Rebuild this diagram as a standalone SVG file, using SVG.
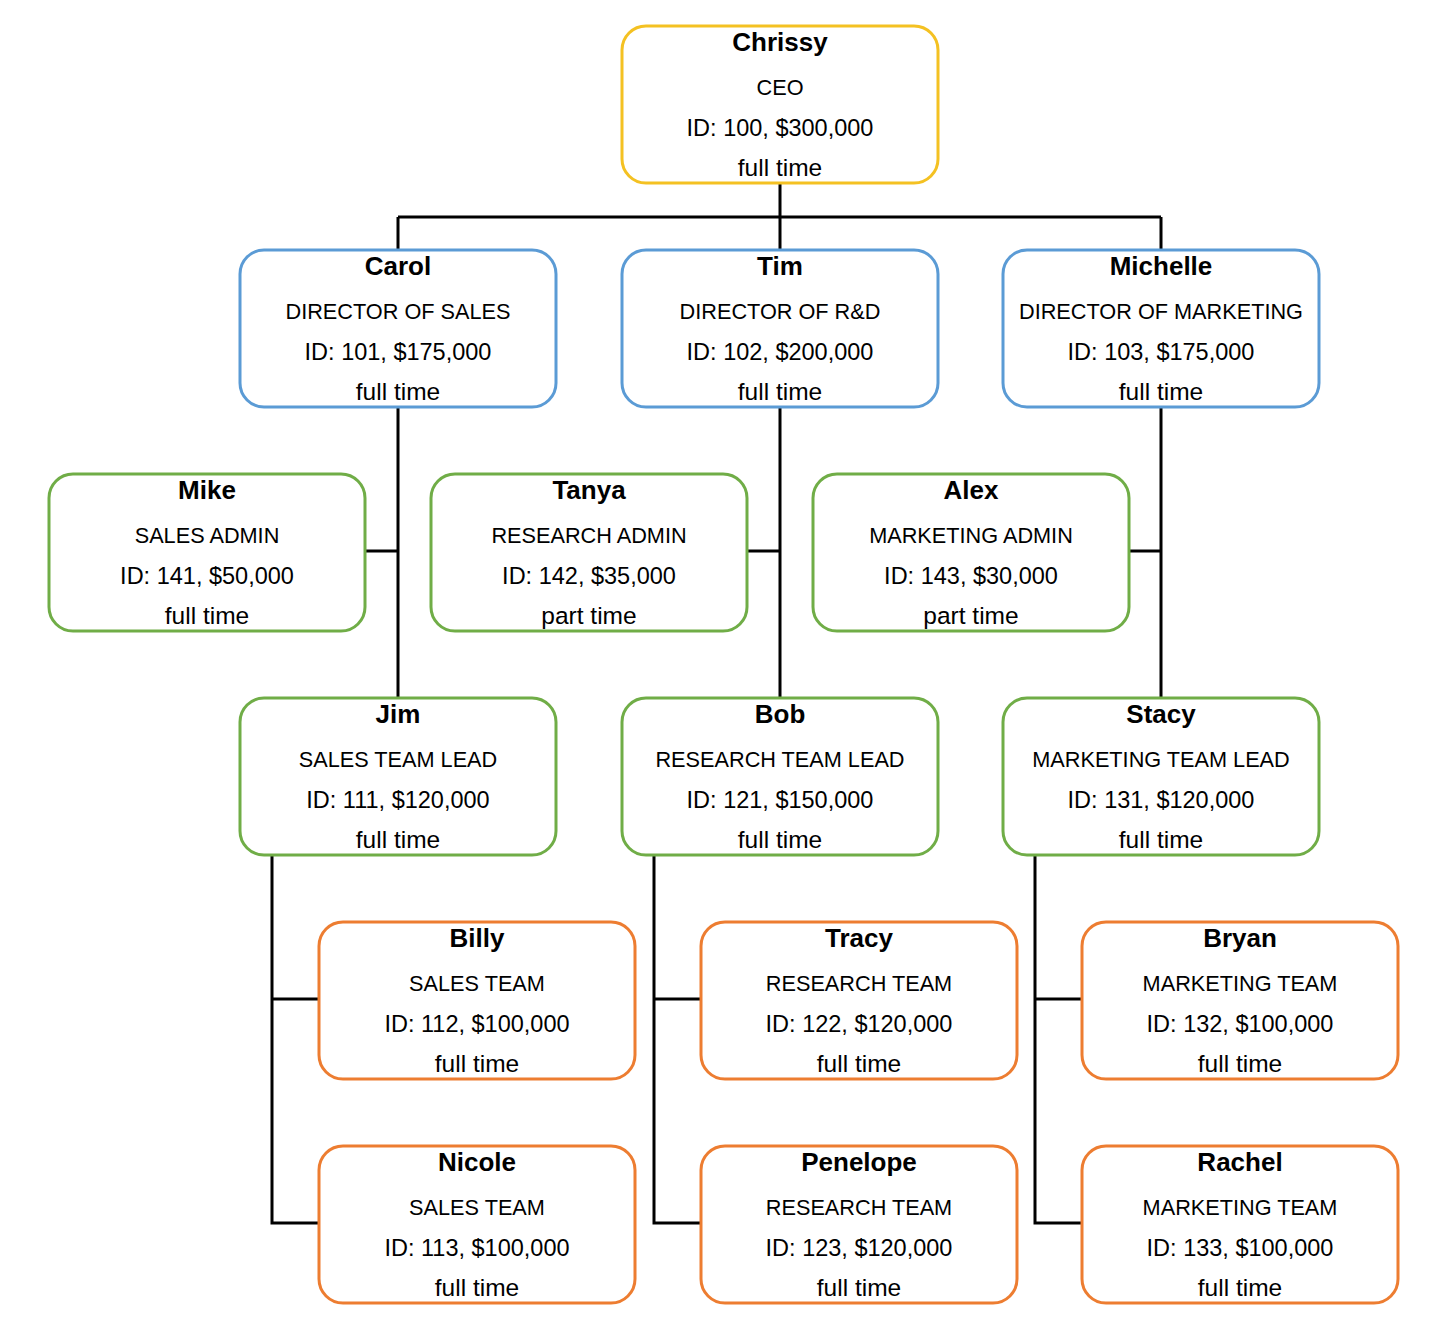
<svg xmlns="http://www.w3.org/2000/svg" width="1452" height="1327" viewBox="0 0 1452 1327">
<style>
.box{fill:#fff;stroke-width:3}
.ceo{stroke:#F4C122}
.dir{stroke:#5B9BD5}
.grn{stroke:#70AD47}
.org{stroke:#ED7D31}
text{font-family:"Liberation Sans",Arial,sans-serif;font-size:21.7px;fill:#000;text-anchor:middle}
.nm{font-weight:bold;font-size:26px}
.id{font-size:23.5px}
.ft{font-size:24.5px}
.conn{fill:none;stroke:#000;stroke-width:3}
</style>
<rect width="1452" height="1327" fill="#fff"/>
<g id="connectors" class="conn">
<path d="M780 184V217M398 217H1161M398 217V250M780 217V250M1161 217V250"/>
<path d="M398 407V698M365 551H398"/>
<path d="M780 407V698M746 551H780"/>
<path d="M1161 407V698M1128 551H1161"/>
<path d="M272 855V1223H320M272 999H320"/>
<path d="M654 855V1223H702M654 999H702"/>
<path d="M1035 855V1223H1083M1035 999H1083"/>
</g>
<g id="chrissy"><rect class="box ceo" x="622" y="26" width="316" height="157" rx="24"/><text class="nm" x="780" y="51">Chrissy</text><text x="780" y="95">CEO</text><text class="id" x="780" y="136">ID: 100, $300,000</text><text class="ft" x="780" y="176">full time</text></g>
<g id="carol"><rect class="box dir" x="240" y="250" width="316" height="157" rx="24"/><text class="nm" x="398" y="275">Carol</text><text x="398" y="319">DIRECTOR OF SALES</text><text class="id" x="398" y="360">ID: 101, $175,000</text><text class="ft" x="398" y="400">full time</text></g>
<g id="tim"><rect class="box dir" x="622" y="250" width="316" height="157" rx="24"/><text class="nm" x="780" y="275">Tim</text><text x="780" y="319">DIRECTOR OF R&amp;D</text><text class="id" x="780" y="360">ID: 102, $200,000</text><text class="ft" x="780" y="400">full time</text></g>
<g id="michelle"><rect class="box dir" x="1003" y="250" width="316" height="157" rx="24"/><text class="nm" x="1161" y="275">Michelle</text><text x="1161" y="319">DIRECTOR OF MARKETING</text><text class="id" x="1161" y="360">ID: 103, $175,000</text><text class="ft" x="1161" y="400">full time</text></g>
<g id="mike"><rect class="box grn" x="49" y="474" width="316" height="157" rx="24"/><text class="nm" x="207" y="499">Mike</text><text x="207" y="543">SALES ADMIN</text><text class="id" x="207" y="584">ID: 141, $50,000</text><text class="ft" x="207" y="624">full time</text></g>
<g id="tanya"><rect class="box grn" x="431" y="474" width="316" height="157" rx="24"/><text class="nm" x="589" y="499">Tanya</text><text x="589" y="543">RESEARCH ADMIN</text><text class="id" x="589" y="584">ID: 142, $35,000</text><text class="ft" x="589" y="624">part time</text></g>
<g id="alex"><rect class="box grn" x="813" y="474" width="316" height="157" rx="24"/><text class="nm" x="971" y="499">Alex</text><text x="971" y="543">MARKETING ADMIN</text><text class="id" x="971" y="584">ID: 143, $30,000</text><text class="ft" x="971" y="624">part time</text></g>
<g id="jim"><rect class="box grn" x="240" y="698" width="316" height="157" rx="24"/><text class="nm" x="398" y="723">Jim</text><text x="398" y="767">SALES TEAM LEAD</text><text class="id" x="398" y="808">ID: 111, $120,000</text><text class="ft" x="398" y="848">full time</text></g>
<g id="bob"><rect class="box grn" x="622" y="698" width="316" height="157" rx="24"/><text class="nm" x="780" y="723">Bob</text><text x="780" y="767">RESEARCH TEAM LEAD</text><text class="id" x="780" y="808">ID: 121, $150,000</text><text class="ft" x="780" y="848">full time</text></g>
<g id="stacy"><rect class="box grn" x="1003" y="698" width="316" height="157" rx="24"/><text class="nm" x="1161" y="723">Stacy</text><text x="1161" y="767">MARKETING TEAM LEAD</text><text class="id" x="1161" y="808">ID: 131, $120,000</text><text class="ft" x="1161" y="848">full time</text></g>
<g id="billy"><rect class="box org" x="319" y="922" width="316" height="157" rx="24"/><text class="nm" x="477" y="947">Billy</text><text x="477" y="991">SALES TEAM</text><text class="id" x="477" y="1032">ID: 112, $100,000</text><text class="ft" x="477" y="1072">full time</text></g>
<g id="tracy"><rect class="box org" x="701" y="922" width="316" height="157" rx="24"/><text class="nm" x="859" y="947">Tracy</text><text x="859" y="991">RESEARCH TEAM</text><text class="id" x="859" y="1032">ID: 122, $120,000</text><text class="ft" x="859" y="1072">full time</text></g>
<g id="bryan"><rect class="box org" x="1082" y="922" width="316" height="157" rx="24"/><text class="nm" x="1240" y="947">Bryan</text><text x="1240" y="991">MARKETING TEAM</text><text class="id" x="1240" y="1032">ID: 132, $100,000</text><text class="ft" x="1240" y="1072">full time</text></g>
<g id="nicole"><rect class="box org" x="319" y="1146" width="316" height="157" rx="24"/><text class="nm" x="477" y="1171">Nicole</text><text x="477" y="1215">SALES TEAM</text><text class="id" x="477" y="1256">ID: 113, $100,000</text><text class="ft" x="477" y="1296">full time</text></g>
<g id="penelope"><rect class="box org" x="701" y="1146" width="316" height="157" rx="24"/><text class="nm" x="859" y="1171">Penelope</text><text x="859" y="1215">RESEARCH TEAM</text><text class="id" x="859" y="1256">ID: 123, $120,000</text><text class="ft" x="859" y="1296">full time</text></g>
<g id="rachel"><rect class="box org" x="1082" y="1146" width="316" height="157" rx="24"/><text class="nm" x="1240" y="1171">Rachel</text><text x="1240" y="1215">MARKETING TEAM</text><text class="id" x="1240" y="1256">ID: 133, $100,000</text><text class="ft" x="1240" y="1296">full time</text></g>
</svg>
